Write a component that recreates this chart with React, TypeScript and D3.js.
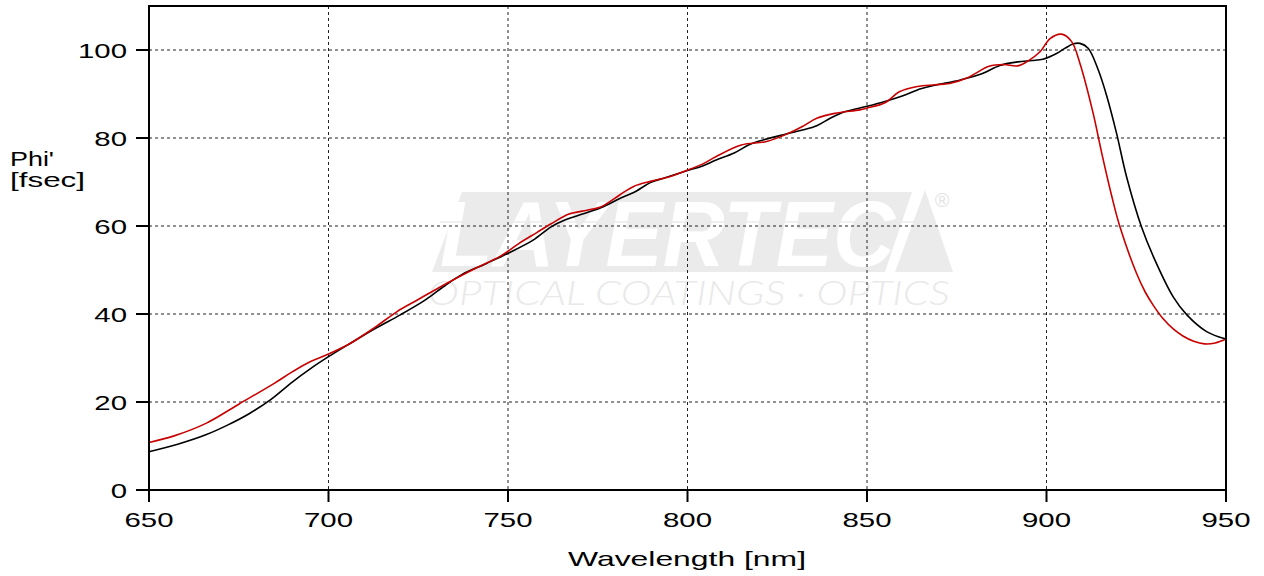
import * as d3 from "d3";

// Black curve (measured) – wavelength [nm] / Phi' [fsec]
const blackWl = [650, 658, 666, 672, 678, 684, 690, 695, 700, 706, 713, 720, 727, 732, 737, 744, 750, 757, 762, 766, 771, 776, 781, 785, 790, 794, 800, 804, 808, 813, 817, 820, 827, 832, 836, 840, 844, 850, 855, 860, 865, 869, 876, 882, 887, 892, 896, 899, 902.8, 905, 907.5, 909.3, 911.6, 914.4, 916.8, 919.5, 922.3, 926.5, 929.8, 935.3, 939.1, 944.6, 950];
const blackPhi = [8.7, 10.4, 12.6, 14.8, 17.4, 20.6, 24.6, 27.6, 30.3, 33.3, 36.7, 39.8, 43.2, 46.2, 48.9, 51.5, 53.8, 56.8, 59.8, 61.4, 62.8, 64.2, 66.2, 67.6, 70.0, 71.0, 72.6, 73.6, 75.0, 76.6, 78.4, 79.3, 80.8, 81.8, 82.8, 84.6, 86.0, 87.2, 88.3, 89.6, 91.2, 92.0, 93.2, 94.6, 96.5, 97.3, 97.6, 97.9, 99.2, 100.3, 101.4, 101.5, 100.4, 95.5, 89.5, 81.1, 71.2, 59.7, 53.0, 43.9, 39.8, 36.0, 34.3];

// Red curve (design)
const redWl = [650, 657, 666, 675, 685, 690, 695, 700, 706, 713, 719, 725, 733, 740, 748, 753, 758, 762, 767, 772, 776, 781, 785, 790, 795, 799, 804, 808, 815, 822, 828, 832, 836, 841, 848, 850, 855, 859, 864, 869, 873, 878, 884, 888, 892, 895, 898.2, 901, 904.2, 907, 909.3, 913, 915.4, 918.2, 920.5, 925.1, 927.5, 929.8, 932.5, 935.3, 938, 941, 944, 947, 950];
const redPhi = [10.8, 12.3, 15.2, 19.5, 24.3, 26.9, 29.2, 30.9, 33.3, 37.0, 40.5, 43.3, 47.0, 50.0, 53.2, 56.0, 58.5, 60.5, 62.7, 63.6, 64.4, 67.0, 69.0, 70.2, 71.2, 72.4, 74.0, 75.8, 78.4, 79.2, 81.0, 82.6, 84.5, 85.6, 86.4, 86.8, 88.0, 90.5, 91.7, 92.1, 92.4, 93.7, 96.3, 96.7, 96.4, 97.6, 99.6, 102.6, 103.6, 101.9, 97.0, 85.6, 76.5, 66.7, 59.7, 49.2, 45.0, 41.9, 38.9, 36.6, 35.0, 33.8, 33.2, 33.4, 34.3];

const xTicks = [650, 700, 750, 800, 850, 900, 950];
const yTicks = [0, 20, 40, 60, 80, 100];

const W = 1264;
const H = 576;
const left = 149;
const right = 1226;
const top = 6;
const bottom = 490;
const FONT = "'Liberation Sans', Arial, sans-serif";
const STRETCH = 1.4;

export default function App() {
  const x = d3.scaleLinear().domain([650, 950]).range([left, right]);
  const y = d3.scaleLinear().domain([0, 110]).range([bottom, top]);

  const line = d3
    .line<[number, number]>()
    .x((d) => x(d[0]))
    .y((d) => y(d[1]))
    .curve(d3.curveCatmullRom.alpha(0.5));

  const blackPath = line(blackWl.map((w, i) => [w, blackPhi[i]] as [number, number]))!;
  const redPath = line(redWl.map((w, i) => [w, redPhi[i]] as [number, number]))!;

  return (
    <svg width={W} height={H} style={{ position: "absolute", left: 0, top: 0, background: "#fff" }}>
      {/* watermark */}
      <g>
        <polygon points="462,192 912,192 885,272 432,272" fill="#ebebeb" />
        <polygon points="925,190 953,272 895,272" fill="#ebebeb" />
        <text
          x={440}
          y={266}
          fontFamily={FONT}
          fontWeight="bold"
          fontStyle="italic"
          fontSize={92}
          fill="#fff"
          textLength={455}
          lengthAdjust="spacingAndGlyphs"
        >
          LAYERTEC
        </text>
        <line x1={440} x2={915} y1={222} y2={222} stroke="#ebebeb" strokeWidth={1.5} />
        <text x={942} y={207} fontFamily={FONT} fontSize={20} fill="#e4e4e4" textAnchor="middle">
          ®
        </text>
        <text
          x={428}
          y={305}
          fontFamily="Lato, 'Open Sans', sans-serif"
          fontWeight={300}
          fontStyle="italic"
          fontSize={33}
          fill="#e9e9e9"
          textLength={522}
          lengthAdjust="spacingAndGlyphs"
        >
          OPTICAL COATINGS · OPTICS
        </text>
      </g>

      {/* grid */}
      <g stroke="#222" strokeWidth={1} strokeDasharray="3,3">
        {xTicks.slice(1, -1).map((t) => (
          <line key={`gx${t}`} x1={x(t)} x2={x(t)} y1={top} y2={bottom} />
        ))}
        {yTicks.slice(1).map((t) => (
          <line key={`gy${t}`} x1={left} x2={right} y1={y(t)} y2={y(t)} />
        ))}
      </g>

      {/* curves */}
      <path d={blackPath} fill="none" stroke="#000" strokeWidth={1.6} />
      <path d={redPath} fill="none" stroke="#c80000" strokeWidth={1.6} />

      {/* frame */}
      <rect x={left} y={top} width={right - left} height={bottom - top} fill="none" stroke="#000" strokeWidth={2} />

      {/* ticks */}
      <g stroke="#000" strokeWidth={2}>
        {yTicks.map((t) => (
          <line key={`ty${t}`} x1={136} x2={left} y1={y(t)} y2={y(t)} />
        ))}
        {xTicks.map((t) => (
          <line key={`tx${t}`} x1={x(t)} x2={x(t)} y1={bottom} y2={502} />
        ))}
      </g>

      {/* tick labels */}
      <g fontFamily={FONT} fontSize={21} fill="#000">
        {yTicks.map((t) => (
          <text key={`ly${t}`} textAnchor="end" transform={`translate(127,${y(t) + 7.5}) scale(${STRETCH},1)`}>
            {t}
          </text>
        ))}
        {xTicks.map((t) => (
          <text key={`lx${t}`} textAnchor="middle" transform={`translate(${x(t)},527) scale(${STRETCH},1)`}>
            {t}
          </text>
        ))}
      </g>

      {/* axis titles */}
      <g fontFamily={FONT} fontSize={21} fill="#000">
        <text x={10} y={166} textLength={44} lengthAdjust="spacingAndGlyphs">
          Phi'
        </text>
        <text x={10} y={187} textLength={75} lengthAdjust="spacingAndGlyphs">
          [fsec]
        </text>
        <text x={568} y={566} textLength={238} lengthAdjust="spacingAndGlyphs">
          Wavelength [nm]
        </text>
      </g>
    </svg>
  );
}
